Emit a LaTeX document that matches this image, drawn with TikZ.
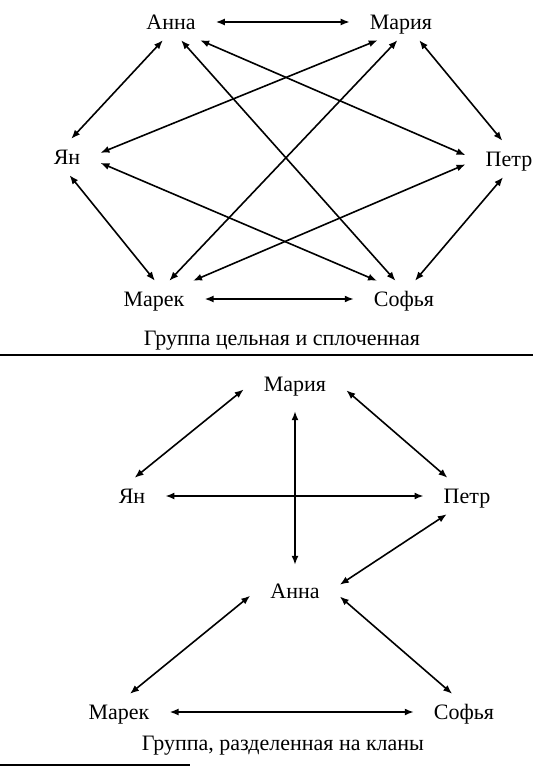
\documentclass[tikz,border=0pt]{standalone}
\usepackage{fontspec}
\setmainfont{Liberation Serif}
\usetikzlibrary{arrows.meta}
\tikzset{
    person/.style={inner xsep=20pt, inner ysep=10.5pt, text height=15pt, text depth=0pt,
                   font=\fontsize{22}{26}\selectfont},
    link/.style={line width=1.6pt, >={Latex[length=9pt,width=7pt]}, <->},
    groupcap/.style={anchor=base, font=\fontsize{22}{26}\selectfont},
    rule/.style={line width=1.5pt}
}

\begin{document}
\begin{tikzpicture}[x=1pt, y=-1pt]
    \useasboundingbox (0,0) rectangle (533,767);

    % Cohesive group
    \node[person] (anna)  at (171,22)  {Анна};
    \node[person] (maria) at (401,22)  {Мария};
    \node[person] (yan)   at (67,157)  {Ян};
    \node[person] (petr)  at (509,159) {Петр};
    \node[person] (marek) at (154,299) {Марек};
    \node[person] (sofya) at (404,299) {Софья};

    % Everyone with everyone
    \draw[link] (anna.east) -- (maria.west);
    \draw[link] (anna.-114) -- (yan.77);
    \draw[link] (anna.-61) -- (sofya.115);
    \draw[link] (anna.-32) -- (petr.175);
    \draw[link] (maria.-142) -- (yan.7);
    \draw[link] (maria.-101) -- (marek.50);
    \draw[link] (maria.-45) -- (petr.110);
    \draw[link] (yan.-82) -- (marek.87);
    \draw[link] (yan.-10) -- (sofya.146);
    \draw[link] (petr.187) -- (marek.25);
    \draw[link] (petr.-108) -- (sofya.59);
    \draw[link] (marek.east) -- (sofya.west);

    \node[groupcap] (cohesive) at (282,345) {Группа цельная и сплоченная};

    % Separator
    \draw[rule] (0,355) -- (533,355);

    % Group split into clans
    \node[person] (maria2) at (295,384) {Мария};
    \node[person] (yan2)   at (132,496) {Ян};
    \node[person] (petr2)  at (467,496) {Петр};
    \node[person] (anna2)  at (295,591) {Анна};
    \node[person] (marek2) at (119,712) {Марек};
    \node[person] (sofya2) at (464,712) {Софья};

    \draw[link] (maria2.186) -- (yan2.82);
    \draw[link] (maria2.-7) -- (petr2.137);
    \draw[link, shorten <=9pt, shorten >=8pt] (maria2.south) -- (anna2.north);
    \draw[link] (yan2.east) -- (petr2.west);
    \draw[link] (petr2.-138) -- (anna2.8);
    \draw[link] (anna2.186) -- (marek2.59);
    \draw[link] (anna2.-7) -- (sofya2.123);
    \draw[link] (marek2.east) -- (sofya2.west);

    \node[groupcap] (clans) at (283,750) {Группа, разделенная на кланы};

    \draw[rule] (0,765) -- (190,765);
\end{tikzpicture}
\end{document}
